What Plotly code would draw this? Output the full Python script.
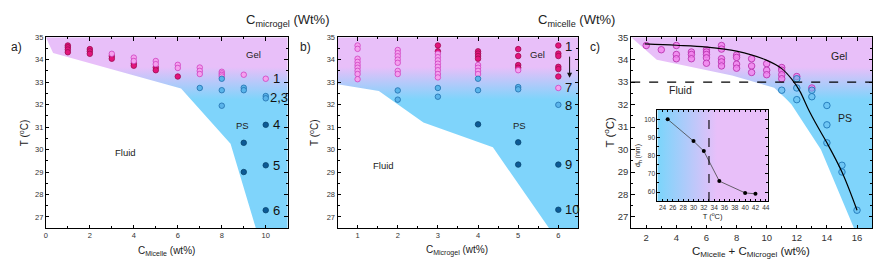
import plotly.graph_objects as go

# ---------------- DATA ----------------
# Panel a : T vs C_micelle
a_gel_dark_x = [1, 1, 1, 1, 2, 2, 2, 3, 3, 4, 4, 5, 5, 6]
a_gel_dark_y = [34.63, 34.55, 34.45, 34.33, 34.47, 34.37, 34.26, 34.16, 34.04, 33.83, 33.73, 33.65, 33.53, 33.25]
a_gel_light_x = [3, 4, 4, 5, 5, 6, 6, 7, 7, 7, 8, 8, 8, 8, 9, 10]
a_gel_light_y = [34.26, 34.09, 33.94, 33.94, 33.8, 33.77, 33.63, 33.65, 33.5, 33.36, 33.46, 33.39, 33.32, 33.25, 33.33, 33.15]
a_ps_light_x = [7, 8, 8, 8, 9, 9, 10, 10]
a_ps_light_y = [32.74, 33.15, 32.64, 31.95, 32.75, 32.64, 32.38, 32.28]
a_ps_dark_x = [9, 9, 10, 10, 10]
a_ps_dark_y = [30.3, 29.0, 31.1, 29.3, 27.3]
a_region_x = [0, 0.33, 6.15, 8.4, 9.55, 11, 11]
a_region_y = [35, 34.3, 32.72, 30.26, 26.5, 26.5, 35]
a_labels = ["1", "2,3", "4", "5", "6"]
a_label_T = [33.15, 32.3, 31.1, 29.3, 27.3]

# Panel b : T vs C_microgel
b_gel_dark_x = [3, 3, 4, 4, 4, 4, 5, 5, 5, 5, 6, 6, 6, 6, 6, 6]
b_gel_dark_y = [34.63, 34.37, 34.37, 34.27, 34.16, 34.04, 34.47, 34.16, 33.76, 33.64, 34.63, 34.27, 34.16, 33.68, 33.58, 33.25]
b_gel_light_x = [1, 1, 1, 1, 1, 1, 1, 1, 1,
                 2, 2, 2, 2, 2, 2, 2,
                 3, 3, 3, 3, 3, 3, 3, 3,
                 4, 4, 4, 4, 5, 6]
b_gel_light_y = [34.63, 34.48, 34.04, 33.9, 33.76, 33.64, 33.5, 33.36, 33.13,
                 34.43, 34.29, 34.15, 34.0, 33.86, 33.5, 33.36,
                 34.26, 34.11, 33.97, 33.82, 33.68, 33.53, 33.36, 33.21,
                 33.76, 33.64, 33.5, 33.36, 33.53, 32.74]
b_ps_light_x = [2, 2, 3, 3, 4, 4, 5, 5, 6]
b_ps_light_y = [32.63, 32.22, 32.74, 32.35, 33.15, 32.64, 32.78, 32.68, 31.99]
b_ps_dark_x = [4, 5, 5, 6, 6]
b_ps_dark_y = [31.12, 30.32, 29.33, 29.33, 27.32]
b_region_x = [0.5, 1.53, 2.64, 4.37, 5.77, 6.5, 6.5, 0.5]
b_region_y = [32.9, 32.6, 31.2, 30.1, 26.5, 26.5, 35, 35]
b_labels = ["1", "7", "8", "9", "10"]
b_label_T = [34.6, 32.74, 31.95, 29.33, 27.32]

# Panel c : T vs total concentration
c_gel_x = [2, 3, 4, 4, 4, 5, 5, 5, 6, 6, 6, 6, 6, 7, 7, 7, 7, 7, 8, 8, 8, 8,
           9, 9, 9, 10, 10, 10, 11, 11, 11, 11, 12, 13]
c_gel_y = [34.63, 34.44, 34.63, 34.23, 34.04, 34.34, 34.23, 34.04, 34.44, 34.34, 34.23, 34.08, 33.84,
           34.63, 34.47, 34.04, 33.9, 33.72, 34.2, 34.1, 33.8, 33.62,
           34.04, 33.72, 33.43, 33.82, 33.53, 33.33, 33.65, 33.53, 33.33, 33.15, 33.25, 32.74]
c_ps_x = [11, 12, 12, 12, 13, 13, 14, 14, 14, 15, 15, 16]
c_ps_y = [32.64, 33.15, 32.74, 32.22, 32.64, 32.35, 31.96, 31.1, 30.3, 29.3, 29.0, 27.3]
c_fit_x = [1.9, 4.0, 6.0, 8.0, 9.9, 11.0, 11.7, 12.2, 12.8, 13.4, 14.0, 15.0, 16.0]
c_fit_y = [34.7, 34.64, 34.56, 34.38, 34.0, 33.6, 33.1, 32.6, 31.75, 31.0, 30.3, 29.0, 27.3]
c_region_x = [1, 2.7, 7.7, 10.5, 11.3, 11.65, 13.6, 15.8, 17, 17]
c_region_y = [35, 34.0, 33.3, 32.75, 32.25, 32.0, 30.0, 26.5, 26.5, 35]
c_transition_T = 33

# Inset : hydrodynamic diameter vs T
inset_T = [25, 30, 32, 35, 40, 42]
inset_dh = [100, 88, 82.5, 66, 59.5, 59]
inset_vline_T = 33

# ---------------- STYLE ----------------
PINK_BG = "#e8bff9"
BLUE_BG = "#7fd4fb"
FONT = "Liberation Sans, Arial, sans-serif"
W, H = 883, 273
OFF = 8  # page body margin offset of the figure div


def py(ys):
    return (H - (ys - OFF)) / H


def px(xs):
    return (xs - OFF) / W


dark_pink = dict(color="#e3147c", size=5.5, line=dict(color="#9c0a50", width=0.8))
light_pink = dict(color="#f4a0ee", size=5.5, line=dict(color="#cf40c0", width=0.8))
light_blue = dict(color="#5ab4ea", size=5.5, line=dict(color="#1f6fad", width=0.8))
dark_blue = dict(color="#0c5a95", size=5.5, line=dict(color="#08446f", width=0.8))

fig = go.Figure()


def region(x, y, xa, ya):
    fig.add_trace(go.Scatter(
        x=x, y=y, xaxis=xa, yaxis=ya, mode="lines", fill="toself",
        line=dict(width=0), hoverinfo="skip", showlegend=False,
        fillgradient=dict(type="vertical", start=32.3, stop=33.7,
                          colorscale=[[0, BLUE_BG], [1, PINK_BG]])))


def pts(x, y, xa, ya, m):
    fig.add_trace(go.Scatter(x=x, y=y, xaxis=xa, yaxis=ya, mode="markers",
                             marker=m, showlegend=False))


# panel a
region(a_region_x, a_region_y, "x", "y")
pts(a_gel_dark_x, a_gel_dark_y, "x", "y", dark_pink)
pts(a_gel_light_x, a_gel_light_y, "x", "y", light_pink)
pts(a_ps_light_x, a_ps_light_y, "x", "y", light_blue)
pts(a_ps_dark_x, a_ps_dark_y, "x", "y", dark_blue)

# panel b
region(b_region_x, b_region_y, "x2", "y2")
pts(b_gel_dark_x, b_gel_dark_y, "x2", "y2", dark_pink)
pts(b_gel_light_x, b_gel_light_y, "x2", "y2", light_pink)
pts(b_ps_light_x, b_ps_light_y, "x2", "y2", light_blue)
pts(b_ps_dark_x, b_ps_dark_y, "x2", "y2", dark_blue)

# panel c
region(c_region_x, c_region_y, "x3", "y3")
c_pink = dict(color="rgba(243,130,238,0.8)", size=6.5, line=dict(color="#b935b0", width=0.9))
c_blue = dict(color="rgba(98,189,240,0.6)", size=6.5, line=dict(color="#1f77b8", width=0.9))
pts(c_gel_x, c_gel_y, "x3", "y3", c_pink)
pts(c_ps_x, c_ps_y, "x3", "y3", c_blue)
fig.add_trace(go.Scatter(x=c_fit_x, y=c_fit_y, xaxis="x3", yaxis="y3", mode="lines",
                         line=dict(color="black", width=1.2, shape="spline"), showlegend=False))

# inset
IX = [23, 44.4]
IY = [55, 105.2]
fig.add_trace(go.Scatter(
    x=[IX[0], IX[1], IX[1], IX[0]], y=[IY[0], IY[0], IY[1], IY[1]], xaxis="x4", yaxis="y4",
    mode="lines", fill="toself", line=dict(width=0), hoverinfo="skip", showlegend=False,
    fillgradient=dict(type="horizontal", start=23.5, stop=34.5,
                      colorscale=[[0, BLUE_BG], [1, PINK_BG]])))
fig.add_trace(go.Scatter(x=inset_T, y=inset_dh, xaxis="x4", yaxis="y4", mode="lines+markers",
                         line=dict(color="#444", width=0.8),
                         marker=dict(color="black", size=4), showlegend=False))


# ---------------- AXES ----------------
def ax(domain, rng, dtick, minor_dtick, anchor, size, tick0=None):
    d = dict(domain=domain, range=rng, anchor=anchor, showgrid=False, zeroline=False,
             showline=True, linecolor="black", linewidth=1, mirror="allticks",
             ticks="inside", ticklen=3.5, tickwidth=1, tickcolor="black",
             tickfont=dict(size=size, color="#333", family=FONT),
             minor=dict(ticks="inside", ticklen=2, tickcolor="black", dtick=minor_dtick, showgrid=False),
             dtick=dtick)
    if tick0 is not None:
        d["tick0"] = tick0
    return d


ydom = [py(227), py(31.7)]
fig.update_layout(
    xaxis=ax([px(44), px(287)], [0, 11], 2, 1, "y", 7.5, tick0=0),
    yaxis=ax(ydom, [26.5, 35], 1, 0.5, "x", 7.5),
    xaxis2=ax([px(337), px(579)], [0.5, 6.5], 1, 0.5, "y2", 7.5, tick0=0),
    yaxis2=ax(ydom, [26.5, 35], 1, 0.5, "x2", 7.5),
    xaxis3=ax([px(632), px(874)], [1, 17], 2, 1, "y3", 9.5, tick0=0),
    yaxis3=ax(ydom, [26.5, 35], 1, 0.5, "x3", 9.5),
    xaxis4=ax([px(658.3), px(769.3)], IX, 2, 1, "y4", 6.5, tick0=0),
    yaxis4=ax([py(199.3), py(106)], IY, 10, 5, "x4", 6.5, tick0=0),
)
fig.layout.xaxis4.update(ticklen=2.5, title=dict(text="T (<sup>o</sup>C)", font=dict(size=7.5, family=FONT, color="#222"), standoff=3))
fig.layout.yaxis4.update(ticklen=2.5, title=dict(text="d<sub>h</sub> (nm)", font=dict(size=7, family=FONT, color="#222"), standoff=2))

# ---------------- SHAPES ----------------
fig.add_shape(type="line", xref="x3 domain", yref="y3", x0=0, x1=1,
              y0=c_transition_T, y1=c_transition_T, line=dict(color="black", width=1.1, dash="dash"))
fig.add_shape(type="line", xref="x4", yref="y4 domain", x0=inset_vline_T, x1=inset_vline_T,
              y0=0, y1=1, line=dict(color="black", width=1.1, dash="dash"))


# ---------------- ANNOTATIONS ----------------
def ann(text, x, y, xref="paper", yref="paper", size=10, xanchor="center", yanchor="middle",
        angle=0, color="#222"):
    fig.add_annotation(text=text, x=x, y=y, xref=xref, yref=yref, showarrow=False,
                       font=dict(size=size, family=FONT, color=color),
                       xanchor=xanchor, yanchor=yanchor, textangle=angle)


# top headers
ann("C<sub>microgel</sub> (Wt%)", px(287), py(15), size=13)
ann("C<sub>micelle</sub> (Wt%)", px(577), py(15), size=13)
# panel letters
ann("a)", px(15), py(42), size=12)
ann("b)", px(305), py(42), size=12)
ann("c)", px(596), py(42), size=12)
# axis titles
ann("C<sub>Micelle</sub> (wt%)", px(165), py(250), size=10)
ann("C<sub>Microgel</sub> (wt%)", px(457), py(250), size=10)
ann("C<sub>Micelle</sub> + C<sub>Microgel</sub> (wt%)", px(752), py(251), size=11.5)
ann("T (<sup>o</sup>C)", px(22), py(129), size=10, angle=-90)
ann("T (<sup>o</sup>C)", px(314), py(129), size=10, angle=-90)
ann("T (<sup>o</sup>C)", px(610), py(129), size=11.5, angle=-90)

# region labels
ann("Gel", 9.45, 34.25, "x", "y", size=9.5)
ann("PS", 8.95, 31.05, "x", "y", size=9.5)
ann("Fluid", 3.6, 29.85, "x", "y", size=9.5)
ann("Gel", 5.49, 34.25, "x2", "y2", size=9.5)
ann("PS", 5.03, 31.05, "x2", "y2", size=9.5)
ann("Fluid", 1.64, 29.3, "x2", "y2", size=9.5)
ann("Gel", 14.8, 34.15, "x3", "y3", size=10.5)
ann("PS", 15.2, 31.4, "x3", "y3", size=10.5)
ann("Fluid", 4.3, 32.65, "x3", "y3", size=10.5)

# sample numbers
for lab, T in zip(a_labels, a_label_T):
    ann(lab, 10.12 if lab == "2,3" else 10.25, T, "x", "y", size=13, xanchor="left", color="#111")
for lab, T in zip(b_labels, b_label_T):
    ann(lab, 6.12, T, "x2", "y2", size=13, xanchor="left", color="#111")
fig.add_annotation(x=6.28, y=33.2, ax=6.28, ay=34.2, xref="x2", yref="y2", axref="x2", ayref="y2",
                   showarrow=True, arrowhead=2, arrowsize=1, arrowwidth=1, arrowcolor="#111", text="")

fig.update_layout(width=W, height=H, margin=dict(l=0, r=0, t=0, b=0),
                  paper_bgcolor="white", plot_bgcolor="white",
                  font=dict(family=FONT), showlegend=False)

fig.write_html("out.html")
